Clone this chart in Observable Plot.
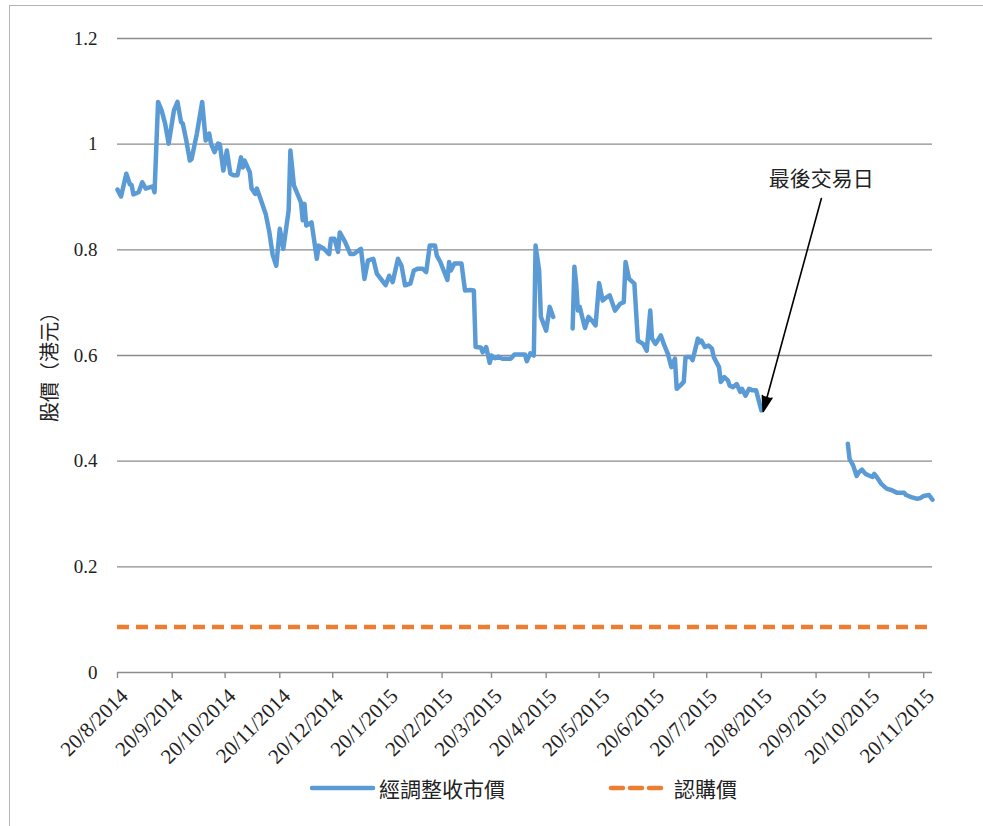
<!DOCTYPE html>
<html>
<head>
<meta charset="utf-8">
<script src="https://cdn.jsdelivr.net/npm/d3@7"></script>
<script src="https://cdn.jsdelivr.net/npm/@observablehq/plot@0.6"></script>
<style>
  html, body { margin: 0; padding: 0; background: #fff; overflow: hidden; }
  #frame { position: absolute; left: 9px; top: 5px; width: 1000px; height: 900px; border: 1px solid #b4b4b4; }
  #chart { position: absolute; left: 0; top: 0; }
  .cjk { font-family: "Noto Sans CJK TC", "Noto Sans CJK SC", sans-serif; color: #222; position: absolute; white-space: nowrap; }
</style>
</head>
<body>
<div id="frame"></div>
<div id="chart"></div>
<div class="cjk" id="ylabel" style="left:48px; top:362px; font-size:20px; transform: translate(-50%,-50%) rotate(-90deg);">股價（港元）</div>
<div id="legend" style="position:absolute; left:0; top:775px; width:983px; height:30px;">
  <svg style="position:absolute; left:310px; top:0;" width="66" height="26"><line x1="2" y1="13" x2="63" y2="13" stroke="#5B9BD5" stroke-width="4.5" stroke-linecap="round"/></svg>
  <div class="cjk" style="left:379px; top:0px; font-size:21px; line-height:26px;">經調整收市價</div>
  <svg style="position:absolute; left:608px; top:0;" width="60" height="26"><line x1="3" y1="13" x2="58" y2="13" stroke="#ED7D31" stroke-width="4.5" stroke-dasharray="12,7" stroke-linecap="round"/></svg>
  <div class="cjk" style="left:674px; top:0px; font-size:21px; line-height:26px;">認購價</div>
</div>
<script>
// ---- data ----
const seriesName = "經調整收市價";
const subscriptionName = "認購價";
const dates = [
  "2014-08-20","2014-08-22","2014-08-25","2014-08-27","2014-08-28","2014-08-29","2014-09-01","2014-09-03","2014-09-05","2014-09-08",
  "2014-09-09","2014-09-10","2014-09-12","2014-09-14","2014-09-16","2014-09-18","2014-09-21","2014-09-23","2014-09-25","2014-09-26",
  "2014-09-28","2014-09-30","2014-10-01","2014-10-04","2014-10-07","2014-10-09","2014-10-11","2014-10-12","2014-10-14","2014-10-16",
  "2014-10-17","2014-10-19","2014-10-21","2014-10-23","2014-10-25","2014-10-27","2014-10-29","2014-10-30","2014-10-31","2014-11-03",
  "2014-11-04","2014-11-06","2014-11-07","2014-11-09","2014-11-12","2014-11-14","2014-11-16","2014-11-18","2014-11-20","2014-11-22",
  "2014-11-25","2014-11-26","2014-11-28","2014-12-02","2014-12-03","2014-12-04","2014-12-05","2014-12-08","2014-12-11","2014-12-12",
  "2014-12-15","2014-12-18","2014-12-19","2014-12-21","2014-12-23","2014-12-24","2014-12-27","2014-12-30","2015-01-01","2015-01-05",
  "2015-01-07","2015-01-09","2015-01-12","2015-01-14","2015-01-19","2015-01-21","2015-01-23","2015-01-26","2015-01-28","2015-01-30",
  "2015-02-02","2015-02-04","2015-02-06","2015-02-09","2015-02-11","2015-02-13","2015-02-16","2015-02-17","2015-02-19","2015-02-23",
  "2015-02-24","2015-02-25","2015-02-27","2015-03-03","2015-03-05","2015-03-08","2015-03-10","2015-03-11","2015-03-14","2015-03-15",
  "2015-03-17","2015-03-19","2015-03-20","2015-03-22","2015-03-24","2015-03-26","2015-03-31","2015-04-02","2015-04-08","2015-04-09",
  "2015-04-11","2015-04-13","2015-04-14","2015-04-16","2015-04-17","2015-04-20","2015-04-22","2015-04-24","2015-04-29","2015-05-05",
  "2015-05-06","2015-05-07","2015-05-08","2015-05-09","2015-05-12","2015-05-14","2015-05-16","2015-05-18","2015-05-20","2015-05-22",
  "2015-05-23","2015-05-26","2015-05-29","2015-06-01","2015-06-03","2015-06-04","2015-06-06","2015-06-09","2015-06-11","2015-06-14",
  "2015-06-16","2015-06-18","2015-06-19","2015-06-21","2015-06-24","2015-06-26","2015-06-28","2015-06-30","2015-07-02","2015-07-03",
  "2015-07-05","2015-07-07","2015-07-08","2015-07-11","2015-07-12","2015-07-15","2015-07-16","2015-07-17","2015-07-19","2015-07-21",
  "2015-07-23","2015-07-24","2015-07-27","2015-07-28","2015-07-30","2015-08-01","2015-08-02","2015-08-04","2015-08-06","2015-08-08",
  "2015-08-09","2015-08-11","2015-08-13","2015-08-15","2015-08-17","2015-08-20","2015-09-15","2015-10-08","2015-10-09","2015-10-10",
  "2015-10-11","2015-10-13","2015-10-14","2015-10-16","2015-10-18","2015-10-20","2015-10-22","2015-10-23","2015-10-25","2015-10-27",
  "2015-10-30","2015-11-02","2015-11-05","2015-11-09","2015-11-10","2015-11-13","2015-11-16","2015-11-18","2015-11-20","2015-11-23",
  "2015-11-25"
];
const prices = [
  0.914,0.901,0.944,0.924,0.923,0.905,0.909,0.928,0.916,0.919,
  0.920,0.909,1.080,1.064,1.039,1.001,1.064,1.080,1.042,1.039,
  1.007,0.969,0.972,1.020,1.080,1.007,1.020,1.001,0.985,1.001,
  1.000,0.950,0.988,0.944,0.941,0.941,0.975,0.956,0.969,0.947,
  0.916,0.906,0.916,0.897,0.868,0.835,0.790,0.770,0.840,0.802,
  0.874,0.988,0.922,0.890,0.856,0.887,0.846,0.852,0.783,0.808,
  0.802,0.792,0.821,0.821,0.796,0.833,0.815,0.792,0.792,0.802,
  0.745,0.780,0.783,0.755,0.733,0.751,0.739,0.783,0.770,0.733,
  0.736,0.761,0.764,0.764,0.758,0.808,0.808,0.789,0.777,0.743,
  0.777,0.761,0.774,0.774,0.723,0.724,0.723,0.616,0.615,0.606,
  0.616,0.586,0.600,0.595,0.598,0.594,0.594,0.602,0.602,0.589,
  0.604,0.600,0.808,0.761,0.673,0.647,0.692,0.673,null,0.651,
  0.768,0.736,0.685,0.692,0.652,0.673,0.666,0.657,0.737,0.704,
  0.707,0.714,0.685,0.698,0.701,0.777,0.745,0.736,0.628,0.622,
  0.609,0.685,0.632,0.622,0.638,0.619,0.603,0.578,0.594,0.537,
  0.543,0.550,0.597,0.597,0.591,0.632,0.625,0.628,0.616,0.619,
  0.613,0.597,0.578,0.550,0.559,0.553,0.543,0.540,0.546,0.531,
  0.537,0.524,0.537,0.534,0.534,0.496,null,0.433,0.404,0.398,
  0.392,0.372,0.378,0.384,0.376,0.373,0.370,0.376,0.367,0.357,
  0.348,0.345,0.340,0.340,0.336,0.332,0.329,0.330,0.334,0.336,
  0.327
];
const subscriptionPrice = 0.086;
const yTicks = [0, 0.2, 0.4, 0.6, 0.8, 1.0, 1.2];
const xTickDates = [
  "2014-08-20","2014-09-20","2014-10-20","2014-11-20","2014-12-20","2015-01-20","2015-02-20","2015-03-20",
  "2015-04-20","2015-05-20","2015-06-20","2015-07-20","2015-08-20","2015-09-20","2015-10-20","2015-11-20"
];
const xDomain = ["2014-08-20", "2015-11-25"];
const annotationText = "最後交易日";
const annotationTextAt = { date: "2015-09-23", value: 0.933 };
const arrowFrom = { date: "2015-09-23", value: 0.897 };
const arrowTo = { date: "2015-08-21", value: 0.494 };

// ---- build ----
const parse = s => new Date(s + "T00:00:00Z");
const table = dates.map((d, i) => ({ date: parse(d), value: prices[i] }));
const ticksX = xTickDates.map(parse);
const fmtDate = d => `${d.getUTCDate()}/${d.getUTCMonth() + 1}/${d.getUTCFullYear()}`;

const chart = Plot.plot({
  width: 983,
  height: 770,
  marginLeft: 117,
  marginRight: 51,
  marginTop: 38,
  marginBottom: 98,
  style: { fontFamily: "Liberation Serif", fontSize: "19px", color: "#222", background: "transparent", overflow: "visible" },
  x: { type: "utc", domain: xDomain.map(parse) },
  y: { domain: [0, 1.2] },
  marks: [
    Plot.ruleY(yTicks, { stroke: "#8c8c8c", strokeWidth: 1.4 }),
    Plot.axisY({ ticks: yTicks, tickSize: 0, tickPadding: 20, tickFormat: d3.format("~g"), label: null }),
    Plot.axisX({ ticks: ticksX, tickSize: 6, tickFormat: () => "", stroke: "#8c8c8c", strokeWidth: 1.4, label: null }),
    Plot.axisX({ ticks: ticksX, tickSize: 0, tickPadding: 20, tickRotate: -45, tickFormat: fmtDate, dx: 7, fontSize: 21, label: null }),
    Plot.ruleY([subscriptionPrice], { stroke: "#ED7D31", strokeWidth: 4.5, strokeDasharray: "12,7" }),
    Plot.line(table, { x: "date", y: "value", stroke: "#5B9BD5", strokeWidth: 4.5, strokeLinejoin: "round", strokeLinecap: "round" }),
    Plot.arrow([{ x1: parse(arrowFrom.date), y1: arrowFrom.value, x2: parse(arrowTo.date), y2: arrowTo.value }],
      { x1: "x1", y1: "y1", x2: "x2", y2: "y2", stroke: "#000", fill: "#000", strokeWidth: 1.6, headLength: 15, headAngle: 36 }),
    Plot.text([{ x: parse(annotationTextAt.date), y: annotationTextAt.value, t: annotationText }],
      { x: "x", y: "y", text: "t", fontFamily: "Noto Sans CJK TC", fontSize: 21, fill: "#222" })
  ]
});
document.getElementById("chart").appendChild(chart);
</script>
</body>
</html>
